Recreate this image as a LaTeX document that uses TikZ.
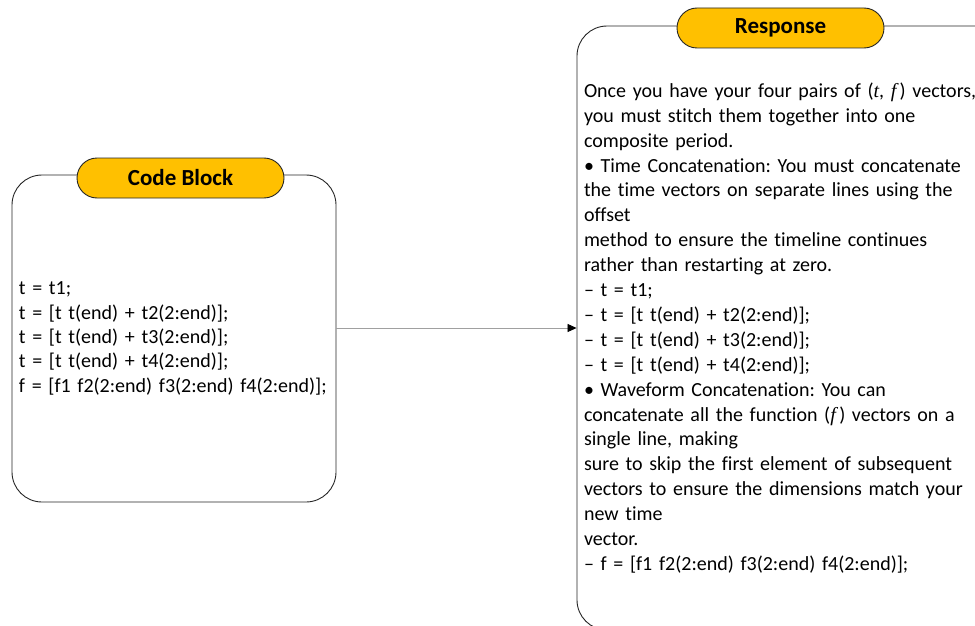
\documentclass[tikz,border=0pt]{standalone}
\usepackage{fontspec}
\setmainfont{Carlito}[Ligatures=NoCommon]
\newfontfamily\varfont{Liberation Serif}
\newcommand{\var}[1]{{\varfont\itshape #1}}
\usetikzlibrary{arrows.meta}

\definecolor{pillorange}{HTML}{FFC000}
\definecolor{arrowgray}{HTML}{A0A0A0}

\tikzset{
    panel/.style={draw=black!85, line width=0.9pt, rounded corners=30pt, align=left,
        inner xsep=7pt},
    pill/.style={draw=black!85, fill=pillorange, line width=0.9pt, rounded corners=20pt,
        minimum width=207pt, minimum height=40pt, font=\fontsize{23}{27}\selectfont\bfseries},
    flow/.style={draw=arrowgray, line width=0.8pt, -{Triangle[length=9pt, width=8pt, color=black]}}
}

\begin{document}
\frenchspacing
\begin{tikzpicture}[x=1pt, y=-1pt]
    \useasboundingbox (0,0) rectangle (975,626);
    % left panel
    \node[panel, text width=310pt, minimum height=327pt,
        font=\fontsize{20}{24.3}\selectfont] (code) at (174,338.5)
        {t = t1;\\
         t = [t t(end) + t2(2:end)];\\
         t = [t t(end) + t3(2:end)];\\
         t = [t t(end) + t4(2:end)];\\
         f = [f1 f2(2:end) f3(2:end) f4(2:end)];};
    \node[pill] (codetitle) at (180.5,178) {Code Block};
    % right panel
    \node[panel, text width=414pt, minimum height=604pt,
        font=\fontsize{20}{24.9}\selectfont] (resp) at (791,328)
        {Once you have your four pairs of (\var{t}, \var{f}\,) vectors,\\
         you must stitch them together into one\\
         composite period.\\
         • Time Concatenation: You must concatenate\\
         the time vectors on separate lines using the\\
         offset\\
         method to ensure the timeline continues\\
         rather than restarting at zero.\\
         – t = t1;\\
         – t = [t t(end) + t2(2:end)];\\
         – t = [t t(end) + t3(2:end)];\\
         – t = [t t(end) + t4(2:end)];\\
         • Waveform Concatenation: You can\\
         concatenate all the function (\var{f}\,) vectors on a\\
         single line, making\\
         sure to skip the first element of subsequent\\
         vectors to ensure the dimensions match your\\
         new time\\
         vector.\\
         – f = [f1 f2(2:end) f3(2:end) f4(2:end)];};
    \node[pill] (resptitle) at (780.5,28) {Response};
    \draw[flow] (code.east |- resp.west) -- (resp.west);
\end{tikzpicture}
\end{document}
